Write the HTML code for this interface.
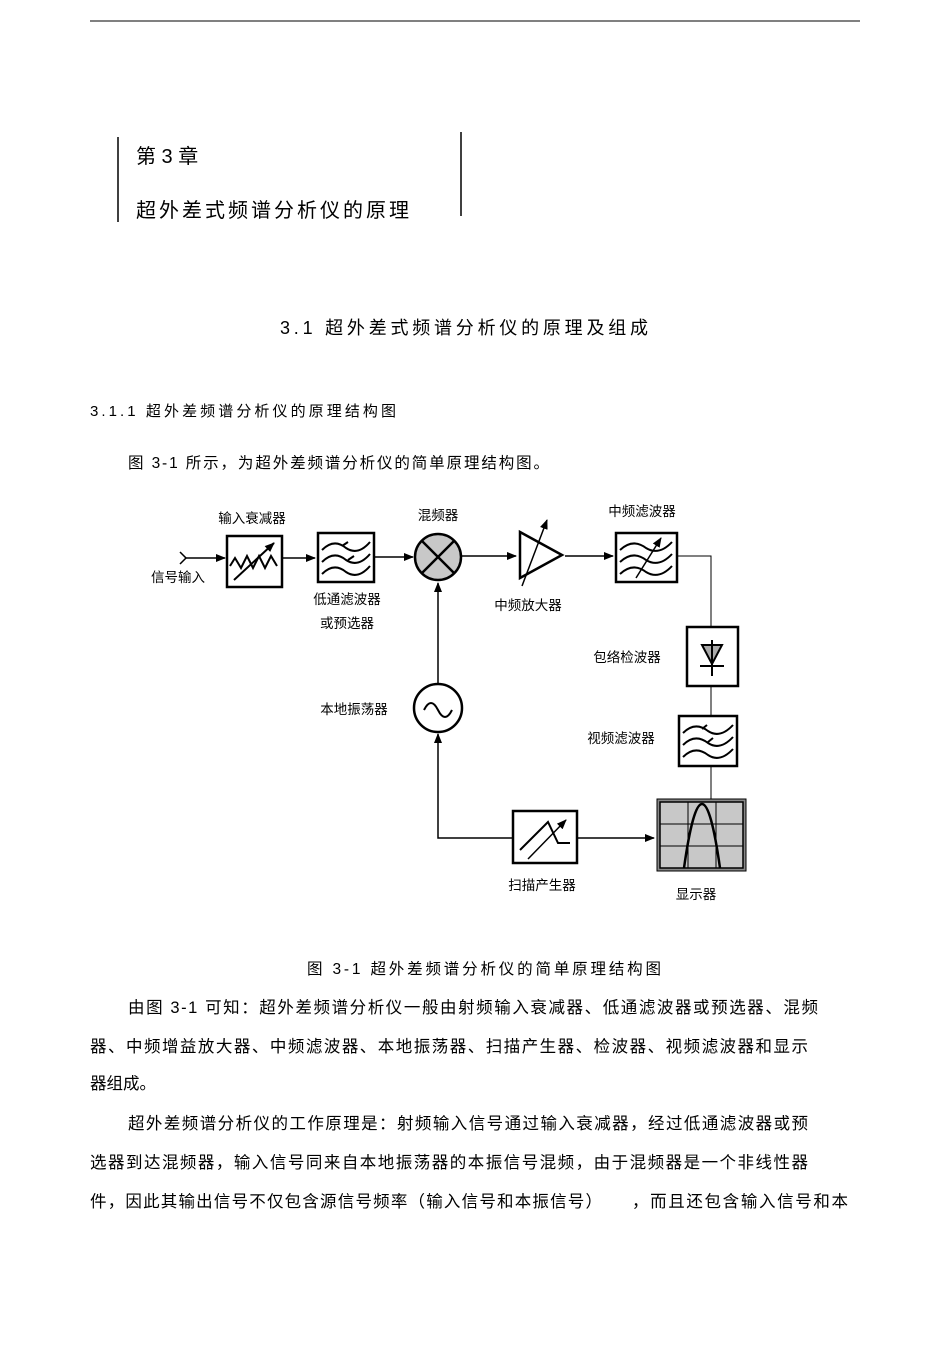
<!DOCTYPE html>
<html><head><meta charset="utf-8"><style>
html,body{margin:0;padding:0;background:#fff}
svg{display:block}
text{font-family:"Liberation Sans","Noto Sans CJK SC",sans-serif;fill:#000}
</style></head><body>
<svg width="950" height="1345" viewBox="0 0 950 1345" xmlns="http://www.w3.org/2000/svg">
<defs>
<marker id="ar" markerWidth="10" markerHeight="8" refX="9" refY="4" orient="auto" markerUnits="userSpaceOnUse">
<path d="M0,0 L10,4 L0,8 Z" fill="#000"/></marker>
</defs>
<line x1="90" y1="21" x2="860" y2="21" stroke="#000" stroke-width="1"/>
<line x1="118" y1="137" x2="118" y2="222" stroke="#000" stroke-width="1.5"/>
<line x1="461" y1="132" x2="461" y2="216" stroke="#000" stroke-width="1.5"/>
<text x="136" y="163" font-size="20">第 3 章</text>
<text x="136" y="217" font-size="20" textLength="273">超外差式频谱分析仪的原理</text>
<text x="280" y="334" font-size="18" textLength="368">3.1    超外差式频谱分析仪的原理及组成</text>
<text x="90" y="416" font-size="15" textLength="306">3.1.1   超外差频谱分析仪的原理结构图</text>
<text x="128" y="468" font-size="15.5" textLength="421">图 3-1 所示，为超外差频谱分析仪的简单原理结构图。</text>

<g stroke="#000" fill="none">
<path d="M180,552 L186,558 L180,564" stroke-width="1.5"/>
<line x1="186" y1="558" x2="225" y2="558" stroke-width="1.5" marker-end="url(#ar)"/>
<rect x="227" y="536" width="55" height="51" stroke-width="2.5"/>
<path d="M230,566 l5,-8 l6,10 l6,-12 l6,12 l6,-12 l6,12 l6,-12 l6,10" stroke-width="2"/>
<line x1="234" y1="580" x2="274" y2="543" stroke-width="2" marker-end="url(#ar)"/>
<line x1="283" y1="558" x2="315" y2="558" stroke-width="1.5" marker-end="url(#ar)"/>
<rect x="318" y="533" width="56" height="49" stroke-width="2.5"/>
<path d="M322,550 q12,-12 24,-2 q12,8 24,-6 M322,562 q12,-12 24,-2 q12,8 24,-6 M322,574 q12,-12 24,-2 q12,8 24,-6 M342,546 l6,-4 M348,560 l6,-4" stroke-width="2"/>
<line x1="374" y1="557" x2="413" y2="557" stroke-width="1.5" marker-end="url(#ar)"/>
<circle cx="438" cy="557" r="23" fill="#c8c8c8" stroke-width="2.5"/>
<line x1="422" y1="541" x2="454" y2="573" stroke-width="2.5"/>
<line x1="454" y1="541" x2="422" y2="573" stroke-width="2.5"/>
<line x1="462" y1="556" x2="516" y2="556" stroke-width="1.5" marker-end="url(#ar)"/>
<path d="M520,532 L562,555 L520,578 Z" stroke-width="2.5"/>
<line x1="522" y1="586" x2="547" y2="520" stroke-width="1.5" marker-end="url(#ar)"/>
<line x1="565" y1="556" x2="613" y2="556" stroke-width="1.5" marker-end="url(#ar)"/>
<rect x="616" y="533" width="61" height="49" stroke-width="2.5"/>
<path d="M620,550 q13,-12 26,-2 q13,8 26,-6 M620,562 q13,-12 26,-2 q13,8 26,-6 M620,574 q13,-12 26,-2 q13,8 26,-6" stroke-width="2"/>
<line x1="636" y1="578" x2="661" y2="538" stroke-width="1.5" marker-end="url(#ar)"/>
<polyline points="677,556 711,556 711,627" stroke-width="1"/>
<rect x="687" y="627" width="51" height="59" stroke-width="2.5"/>
<path d="M702,645 L722,645 L712,664 Z" fill="#aaa" stroke-width="2"/>
<line x1="712" y1="640" x2="712" y2="676" stroke-width="2"/>
<line x1="700" y1="666" x2="724" y2="666" stroke-width="2"/>
<line x1="711" y1="686" x2="711" y2="715" stroke-width="1"/>
<rect x="679" y="716" width="58" height="50" stroke-width="2.5"/>
<path d="M683,733 q12,-12 25,-2 q12,8 25,-6 M683,745 q12,-12 25,-2 q12,8 25,-6 M683,757 q12,-12 25,-2 q12,8 25,-6 M702,729 l5,-4 M708,742 l5,-4" stroke-width="2"/>
<line x1="711" y1="766" x2="711" y2="800" stroke-width="1"/>
<rect x="657" y="799" width="89" height="72" fill="#888" stroke-width="1"/>
<rect x="660" y="802" width="83" height="66" fill="#c8c8c8" stroke-width="1.5"/>
<path d="M688,802 V868 M716,802 V868 M660,824 H743 M660,846 H743" stroke-width="1"/>
<path d="M684,868 Q702,740 720,868" stroke-width="2.5"/>
<rect x="513" y="811" width="64" height="52" stroke-width="2.5"/>
<path d="M520,850 L548,822 L558,843 L570,843" stroke-width="2"/>
<line x1="528" y1="859" x2="566" y2="820" stroke-width="1.5" marker-end="url(#ar)"/>
<line x1="577" y1="838" x2="654" y2="838" stroke-width="1.5" marker-end="url(#ar)"/>
<polyline points="513,838 438,838 438,734" stroke-width="1.5" marker-end="url(#ar)"/>
<circle cx="438" cy="708" r="24" stroke-width="2.5"/>
<path d="M424,710 q7,-14 14,0 q7,14 14,0" stroke-width="2"/>
<line x1="438" y1="684" x2="438" y2="583" stroke-width="1.5" marker-end="url(#ar)"/>
</g>
<g font-size="13.5" text-anchor="middle">
<text x="178" y="582">信号输入</text>
<text x="252" y="523">输入衰减器</text>
<text x="438" y="520">混频器</text>
<text x="347" y="604">低通滤波器</text>
<text x="347" y="628">或预选器</text>
<text x="528" y="610">中频放大器</text>
<text x="642" y="516">中频滤波器</text>
<text x="627" y="662">包络检波器</text>
<text x="621" y="743">视频滤波器</text>
<text x="354" y="714">本地振荡器</text>
<text x="542" y="890">扫描产生器</text>
<text x="696" y="899">显示器</text>
</g>
<text x="307" y="974" font-size="15.5" textLength="354">图 3-1    超外差频谱分析仪的简单原理结构图</text>
<g font-size="16.5">
<text x="128" y="1013" textLength="690">由图  3-1 可知：超外差频谱分析仪一般由射频输入衰减器、低通滤波器或预选器、混频</text>
<text x="90" y="1052" textLength="718">器、中频增益放大器、中频滤波器、本地振荡器、扫描产生器、检波器、视频滤波器和显示</text>
<text x="90" y="1089">器组成。</text>
<text x="128" y="1129" textLength="680">超外差频谱分析仪的工作原理是：射频输入信号通过输入衰减器，经过低通滤波器或预</text>
<text x="90" y="1168" textLength="718">选器到达混频器，输入信号同来自本地振荡器的本振信号混频，由于混频器是一个非线性器</text>
<text x="90" y="1207" textLength="512">件，因此其输出信号不仅包含源信号频率（输入信号和本振信号）</text>
<text x="632" y="1207" textLength="216">，而且还包含输入信号和本</text>
</g>
</svg>
</body></html>
